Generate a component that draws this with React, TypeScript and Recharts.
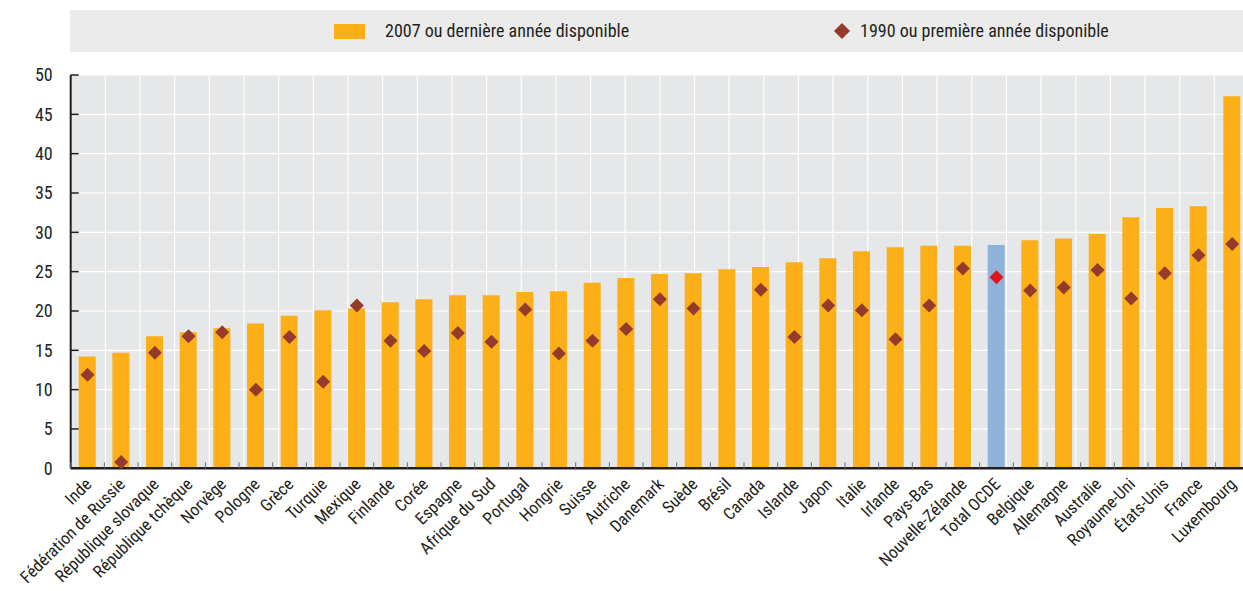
import {
  Bar,
  CartesianGrid,
  Cell,
  ComposedChart,
  Legend,
  Line,
  XAxis,
  YAxis,
} from "recharts";

const countries = [
  "Inde",
  "Fédération de Russie",
  "République slovaque",
  "République tchèque",
  "Norvège",
  "Pologne",
  "Grèce",
  "Turquie",
  "Mexique",
  "Finlande",
  "Corée",
  "Espagne",
  "Afrique du Sud",
  "Portugal",
  "Hongrie",
  "Suisse",
  "Autriche",
  "Danemark",
  "Suède",
  "Brésil",
  "Canada",
  "Islande",
  "Japon",
  "Italie",
  "Irlande",
  "Pays-Bas",
  "Nouvelle-Zélande",
  "Total OCDE",
  "Belgique",
  "Allemagne",
  "Australie",
  "Royaume-Uni",
  "États-Unis",
  "France",
  "Luxembourg",
];

// 2007 ou dernière année disponible
const latest = [
  14.2, 14.7, 16.8, 17.3, 17.8, 18.4, 19.4, 20.1, 20.3, 21.1, 21.5, 22.0, 22.0,
  22.4, 22.5, 23.6, 24.2, 24.7, 24.8, 25.3, 25.6, 26.2, 26.7, 27.6, 28.1, 28.3,
  28.3, 28.4, 29.0, 29.2, 29.8, 31.9, 33.1, 33.3, 47.3,
];

// 1990 ou première année disponible (pas de valeur pour le Brésil)
const first: (number | null)[] = [
  11.9, 0.8, 14.7, 16.8, 17.3, 10.0, 16.7, 11.0, 20.7, 16.2, 14.9, 17.2, 16.1,
  20.2, 14.6, 16.2, 17.7, 21.5, 20.3, null, 22.7, 16.7, 20.7, 20.1, 16.4, 20.7,
  25.4, 24.3, 22.6, 23.0, 25.2, 21.6, 24.8, 27.1, 28.5,
];

const yTicks = [0, 5, 10, 15, 20, 25, 30, 35, 40, 45, 50];
const gridTicks = countries.map((_, i) => i).concat(countries.length);

const seriesNames = {
  latest: "2007 ou dernière année disponible",
  first: "1990 ou première année disponible",
};

const TOTAL = "Total OCDE";
const FONT = '"Liberation Sans Narrow", "Arial Narrow", "Roboto Condensed", sans-serif';
const TEXT = "#231f20";
const ORANGE = "#fcaf17";
const BLUE = "#8db3d6";
const BROWN = "#943b2c";
const RED = "#e2141e";
const PLOT_BG = "#e6e7e8";

const data = countries.map((country, i) => ({
  country,
  latest: latest[i],
  first: first[i],
}));

function CountryTick(props: any) {
  const { x, y, payload } = props;
  const half = payload?.offset ?? 0;
  const bound = payload.coordinate - half;
  return (
    <g>
      {half > 0 && (
        <line x1={bound} x2={bound} y1={y - 6} y2={y} stroke="#6d6e70" strokeWidth={1} />
      )}
      <text
        transform={`translate(${x + 5},${y + 17}) rotate(-45)`}
        textAnchor="end"
        fontSize={17}
        fontFamily={FONT}
        fill={TEXT}
      >
        {payload.value}
      </text>
    </g>
  );
}

function ValueTick(props: any) {
  const { x, y, payload } = props;
  return (
    <g>
      <line x1={x + 18} x2={x + 26} y1={y} y2={y} stroke="#231f20" strokeWidth={1.5} />
      <text
        x={x}
        y={y}
        dy="0.36em"
        textAnchor="end"
        fontSize={18}
        fontFamily={FONT}
        fill={TEXT}
      >
        {payload.value}
      </text>
    </g>
  );
}

function DiamondDot(props: any) {
  const { cx, cy, payload, value } = props;
  if (value == null || cx == null || cy == null) return <g key={props.index} />;
  const r = 7;
  const color = payload.country === TOTAL ? RED : BROWN;
  return (
    <path
      key={props.index}
      d={`M${cx},${cy - r}L${cx + r},${cy}L${cx},${cy + r}L${cx - r},${cy}Z`}
      fill={color}
    />
  );
}

function LegendBand() {
  return (
    <div
      style={{
        position: "relative",
        width: 1173,
        height: 42,
        background: "#ebebeb",
        fontFamily: FONT,
        fontSize: 18,
        color: TEXT,
      }}
    >
      <span
        style={{
          position: "absolute",
          left: 264,
          top: 14,
          width: 31,
          height: 15,
          background: ORANGE,
        }}
      />
      <span style={{ position: "absolute", left: 315, top: 10, whiteSpace: "nowrap" }}>
        {seriesNames.latest}
      </span>
      <svg
        width={16}
        height={16}
        style={{ position: "absolute", left: 764, top: 13 }}
      >
        <path d="M8,0L16,8L8,16L0,8Z" fill={BROWN} />
      </svg>
      <span style={{ position: "absolute", left: 790, top: 10, whiteSpace: "nowrap" }}>
        {seriesNames.first}
      </span>
    </div>
  );
}

export default function App() {
  return (
    <div
      style={{
        position: "fixed",
        left: 0,
        top: 0,
        width: 1243,
        height: 591,
        overflow: "hidden",
        background: "#ffffff",
      }}
    >
      <ComposedChart
        width={1258}
        height={591}
        data={data}
        margin={{ top: 75, right: 9, bottom: 0, left: 0 }}
        barCategoryGap={0}
      >
        <CartesianGrid
          xAxisId="grid"
          stroke="#ffffff"
          strokeWidth={1.2}
          fill={PLOT_BG}
          fillOpacity={1}
        />
        <XAxis
          xAxisId="grid"
          type="number"
          domain={[0, countries.length]}
          ticks={gridTicks}
          allowDataOverflow
          hide
        />
        <XAxis
          dataKey="country"
          interval={0}
          height={122.7}
          tickSize={0}
          tickMargin={0}
          tickLine={false}
          axisLine={{ stroke: "#231f20", strokeWidth: 2.5 }}
          tick={<CountryTick />}
        />
        <YAxis
          domain={[0, 50]}
          ticks={yTicks}
          width={70.7}
          tickSize={0}
          tickMargin={18}
          tickLine={false}
          axisLine={{ stroke: "#231f20", strokeWidth: 2 }}
          tick={<ValueTick />}
        />
        <Legend
          verticalAlign="middle"
          align="center"
          wrapperStyle={{ top: 10, left: 70, width: 1173 }}
          content={<LegendBand />}
        />
        <Bar dataKey="latest" name={seriesNames.latest} barSize={17} isAnimationActive={false}>
          {data.map((d) => (
            <Cell key={d.country} fill={d.country === TOTAL ? BLUE : ORANGE} />
          ))}
        </Bar>
        <Line
          dataKey="first"
          name={seriesNames.first}
          stroke="none"
          dot={<DiamondDot />}
          activeDot={false}
          connectNulls={false}
          isAnimationActive={false}
        />
      </ComposedChart>
    </div>
  );
}
